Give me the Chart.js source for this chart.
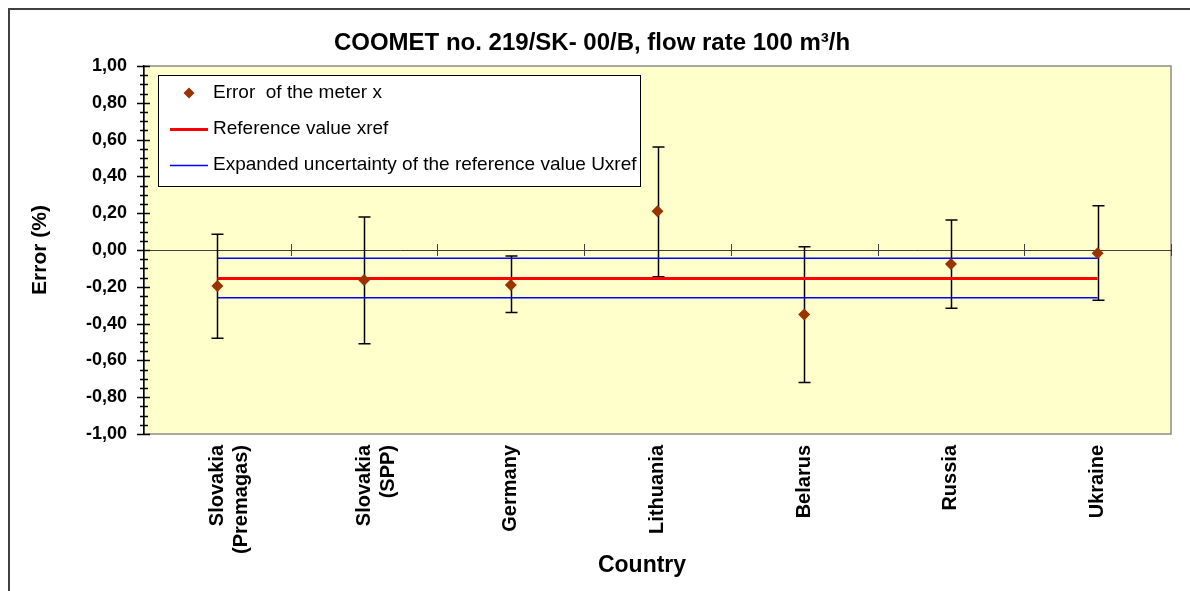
<!DOCTYPE html>
<html>
<head>
<meta charset="utf-8">
<script src="https://cdn.jsdelivr.net/npm/chart.js@4.4.0/dist/chart.umd.min.js"></script>
<style>
html,body{margin:0;padding:0;background:#ffffff;}
#wrap{position:relative;width:1190px;height:591px;overflow:hidden;}
canvas{display:block;}
</style>
</head>
<body>
<div id="wrap"><canvas id="c" width="1190" height="591"></canvas></div>
<script>
// ---- data ----
const categories = [["Slovakia", "(Premagas)"], ["Slovakia", "(SPP)"], "Germany", "Lithuania", "Belarus", "Russia", "Ukraine"];
const meterError = [-0.195, -0.163, -0.19, 0.21, -0.35, -0.076, -0.018];
const errorUpper = [0.085, 0.18, -0.033, 0.56, 0.018, 0.163, 0.24];
const errorLower = [-0.48, -0.51, -0.34, -0.145, -0.72, -0.317, -0.273];
const referenceValue = [-0.155, -0.155, -0.155, -0.155, -0.155, -0.155, -0.155];
const uncertaintyUpper = [-0.045, -0.045, -0.045, -0.045, -0.045, -0.045, -0.045];
const uncertaintyLower = [-0.26, -0.26, -0.26, -0.26, -0.26, -0.26, -0.26];
const yTickValues = [-1, -0.8, -0.6, -0.4, -0.2, 0, 0.2, 0.4, 0.6, 0.8, 1];
const yMinorStep = 0.05;
const titleText = "COOMET no. 219/SK- 00/B, flow rate 100 m\u00B3/h";
const xTitle = "Country";
const yTitle = "Error (%)";

const FONT = 'Arial, "Liberation Sans", Helvetica, sans-serif';

// background, frame, zero line with ticks, y minor ticks, error bars, legend, titles
const decor = {
  id: 'decor',
  beforeDraw(chart) {
    const ctx = chart.ctx, a = chart.chartArea;
    ctx.save();
    ctx.fillStyle = '#ffffff';
    ctx.fillRect(0, 0, chart.width, chart.height);
    ctx.strokeStyle = '#404040';
    ctx.lineWidth = 2;
    ctx.strokeRect(9, 9, 1400, 800);
    ctx.fillStyle = '#FFFFCC';
    ctx.fillRect(a.left, a.top, a.right - a.left, a.bottom - a.top);
    ctx.strokeStyle = '#8c8c8c';
    ctx.lineWidth = 1.5;
    ctx.strokeRect(a.left, a.top, a.right - a.left, a.bottom - a.top);
    ctx.restore();
  },
  beforeDatasetsDraw(chart) {
    const ctx = chart.ctx, a = chart.chartArea;
    const xs = chart.scales.x, ys = chart.scales.y;
    const y0 = ys.getPixelForValue(0);
    ctx.save();
    ctx.strokeStyle = '#404040';
    ctx.lineWidth = 1;
    ctx.beginPath();
    ctx.moveTo(a.left, Math.round(y0) + 0.5);
    ctx.lineTo(a.right, Math.round(y0) + 0.5);
    const n = categories.length;
    for (let i = 0; i < n; i++) {
      const xb = i < n - 1 ? (xs.getPixelForValue(i) + xs.getPixelForValue(i + 1)) / 2 : a.right;
      ctx.moveTo(Math.round(xb) + 0.5, y0 - 6);
      ctx.lineTo(Math.round(xb) + 0.5, y0 + 6);
    }
    ctx.stroke();
    // y axis ticks (major every 0.2, minor every 0.05)
    ctx.strokeStyle = '#000';
    ctx.lineWidth = 1.3;
    ctx.beginPath();
    const ax = a.left;
    for (let k = 0; k <= Math.round((ys.max - ys.min) / yMinorStep); k++) {
      const v = ys.min + k * yMinorStep;
      const py = Math.round(ys.getPixelForValue(v)) + 0.5;
      const major = Math.abs(Math.round(v * 5) - v * 5) < 1e-6;
      ctx.moveTo(ax - (major ? 7 : 4), py);
      ctx.lineTo(ax + (major ? 6 : 4), py);
    }
    ctx.stroke();
    // error bars
    const meta = chart.getDatasetMeta(0);
    ctx.strokeStyle = '#000';
    ctx.lineWidth = 1.5;
    ctx.beginPath();
    meta.data.forEach((pt, i) => {
      const yu = ys.getPixelForValue(errorUpper[i]);
      const yl = ys.getPixelForValue(errorLower[i]);
      const x = Math.round(pt.x) + 0.5;
      ctx.moveTo(x, yu); ctx.lineTo(x, yl);
      ctx.moveTo(x - 6, yu); ctx.lineTo(x + 6, yu);
      ctx.moveTo(x - 6, yl); ctx.lineTo(x + 6, yl);
    });
    ctx.stroke();
    ctx.restore();
  },
  afterDraw(chart) {
    const ctx = chart.ctx;
    ctx.save();
    // chart title and x axis title
    ctx.fillStyle = '#000';
    ctx.textAlign = 'center';
    ctx.textBaseline = 'middle';
    ctx.font = 'bold 24px ' + FONT;
    ctx.fillText(titleText, 592, 43);
    ctx.font = 'bold 23px ' + FONT;
    ctx.fillText(xTitle, 642, 566);
    // legend
    const box = {l: 158, t: 75, r: 640, b: 186};
    ctx.fillStyle = '#ffffff';
    ctx.fillRect(box.l, box.t, box.r - box.l, box.b - box.t);
    ctx.strokeStyle = '#000';
    ctx.lineWidth = 1;
    ctx.strokeRect(box.l + 0.5, box.t + 0.5, box.r - box.l, box.b - box.t);
    const items = chart.data.datasets.filter(d => !d.hideInLegend);
    const rows = [93, 129, 165];
    ctx.font = '19px ' + FONT;
    ctx.textBaseline = 'middle';
    ctx.textAlign = 'left';
    items.forEach((d, i) => {
      const y = rows[i];
      if (d.showLine === false) {
        ctx.fillStyle = d.pointBackgroundColor;
        ctx.beginPath();
        ctx.moveTo(189, y - 5.5); ctx.lineTo(194.5, y); ctx.lineTo(189, y + 5.5); ctx.lineTo(183.5, y);
        ctx.closePath(); ctx.fill();
      } else {
        ctx.strokeStyle = d.borderColor;
        ctx.lineWidth = d.borderWidth;
        ctx.beginPath();
        ctx.moveTo(170, Math.round(y) + 0.5); ctx.lineTo(208, Math.round(y) + 0.5);
        ctx.stroke();
      }
      ctx.fillStyle = '#000';
      ctx.fillText(d.label, 213, y);
    });
    ctx.restore();
  }
};

new Chart(document.getElementById('c'), {
  type: 'line',
  data: {
    labels: categories,
    datasets: [
      {label: 'Error  of the meter x', data: meterError, showLine: false, pointStyle: 'rectRot', pointRadius: 6,
       pointBackgroundColor: '#993300', pointBorderColor: '#993300', pointBorderWidth: 0, order: 0},
      {label: 'Reference value xref', data: referenceValue, borderColor: '#FF0000', borderWidth: 3, pointRadius: 0, order: 2},
      {label: 'Expanded uncertainty of the reference value Uxref', data: uncertaintyUpper, borderColor: '#0000FF', borderWidth: 1.5, pointRadius: 0, order: 3},
      {label: 'Expanded uncertainty (lower)', data: uncertaintyLower, borderColor: '#0000FF', borderWidth: 1.5, pointRadius: 0, order: 3, hideInLegend: true}
    ]
  },
  options: {
    responsive: false,
    animation: false,
    layout: {padding: {left: 0, right: 19, top: 66, bottom: 0}},
    plugins: {
      legend: {display: false},
      tooltip: {enabled: false},
      title: {display: false}
    },
    scales: {
      x: {
        type: 'category', offset: true,
        grid: {display: false, drawTicks: false},
        border: {display: false},
        ticks: {minRotation: 90, maxRotation: 90, autoSkip: false, padding: 11, color: '#000', font: {family: FONT, size: 20, weight: 'bold'}},
        afterFit: s => { s.height = 157; }
      },
      y: {
        min: -1, max: 1,
        afterBuildTicks: s => { s.ticks = yTickValues.map(v => ({value: v})); },
        grid: {display: false, drawTicks: false},
        border: {display: true, color: '#000', width: 1.5},
        ticks: {padding: 17, color: '#000', font: {family: FONT, size: 18, weight: 'bold'},
                callback: v => v.toFixed(2).replace('.', ',')},
        title: {display: true, text: yTitle, color: '#000', font: {family: FONT, size: 21, weight: 'bold'}, padding: {top: 27.4, bottom: 0}},
        afterFit: s => { s.width = 144; }
      }
    }
  },
  plugins: [decor]
});
</script>
</body>
</html>
